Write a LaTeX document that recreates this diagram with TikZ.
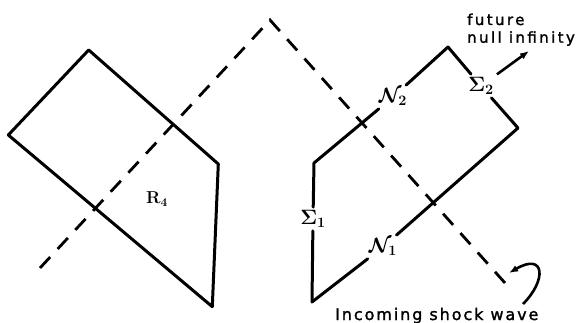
\documentclass[tikz,border=0pt]{standalone}
\usepackage{fontspec}
\usepackage{amsmath}
\usetikzlibrary{arrows.meta}
\newfontfamily\lettfont[LetterSpace=16,FakeBold=1.6]{DejaVu Sans}
\newfontfamily\lettfontb[LetterSpace=12,FakeBold=1.6]{DejaVu Sans}
\begin{document}
\begin{tikzpicture}[x=1pt,y=-1pt,
  edge/.style={line width=3pt,line cap=round,line join=round},
  shock/.style={line width=2.8pt,dash pattern=on 15pt off 11pt},
  lbl/.style={inner sep=3pt,font=\huge\boldmath},
  lett/.style={inner sep=0pt,font=\lettfont\fontsize{15}{18}\selectfont},
  tip/.style={-{Latex[length=9pt,width=7pt]}}]
\useasboundingbox (0,0) rectangle (581,323);
% left region R4
\coordinate (lt) at (88.7,50);
\coordinate (ll) at (8.3,135);
\coordinate (lb) at (212.3,306.7);
\coordinate (lr) at (218.3,164);
\draw[edge] (lt) -- (ll) -- (lb) -- (lr) -- cycle;
\node[inner sep=0pt,font=\LARGE\boldmath] (r4) at (157,199) {$\mathbf{R}_4$};
% shock wave
\coordinate (sa) at (40,268);
\coordinate (apex) at (270,20);
\coordinate (sb) at (505,283);
\draw[shock] (sa) -- (apex) -- (sb);
% right region
\coordinate (A) at (312,302);
\coordinate (B) at (314,163);
\coordinate (C) at (448,47);
\coordinate (D) at (518,128);
\node[lbl] (s1) at (313,219) {$\Sigma_{1}$};
\node[lbl] (n2) at (393,97) {$\mathcal{N}_{2}$};
\node[lbl] (s2) at (481,86) {$\Sigma_{2}$};
\node[lbl] (n1) at (383,247) {$\mathcal{N}_{1}$};
\draw[edge] (A) -- (s1);
\draw[edge] (s1) -- (B) -- (n2);
\draw[edge] (n2) -- (C) -- (s2);
\draw[edge] (s2) -- (D) -- (n1);
\draw[edge] (n1) -- (A);
% future null infinity arrow
\coordinate (fni) at (529,51);
\draw[line width=2.6pt,tip] (s2) -- (fni);
\node[lett,anchor=base west] (fut) at (467,25) {future};
\node[lett,anchor=base west] (nul) at (467,42.7) {null infinity};
% incoming shock wave
\node[lett,anchor=base west,font=\lettfontb\fontsize{16}{18}\selectfont] (isw) at (335,320) {Incoming shock wave};
\coordinate (cs) at (523,304);
\coordinate (ce) at (509,273);
\draw[line width=2.6pt,tip] (cs) .. controls (547,280) and (545,252) .. (ce);
\end{tikzpicture}
\end{document}
